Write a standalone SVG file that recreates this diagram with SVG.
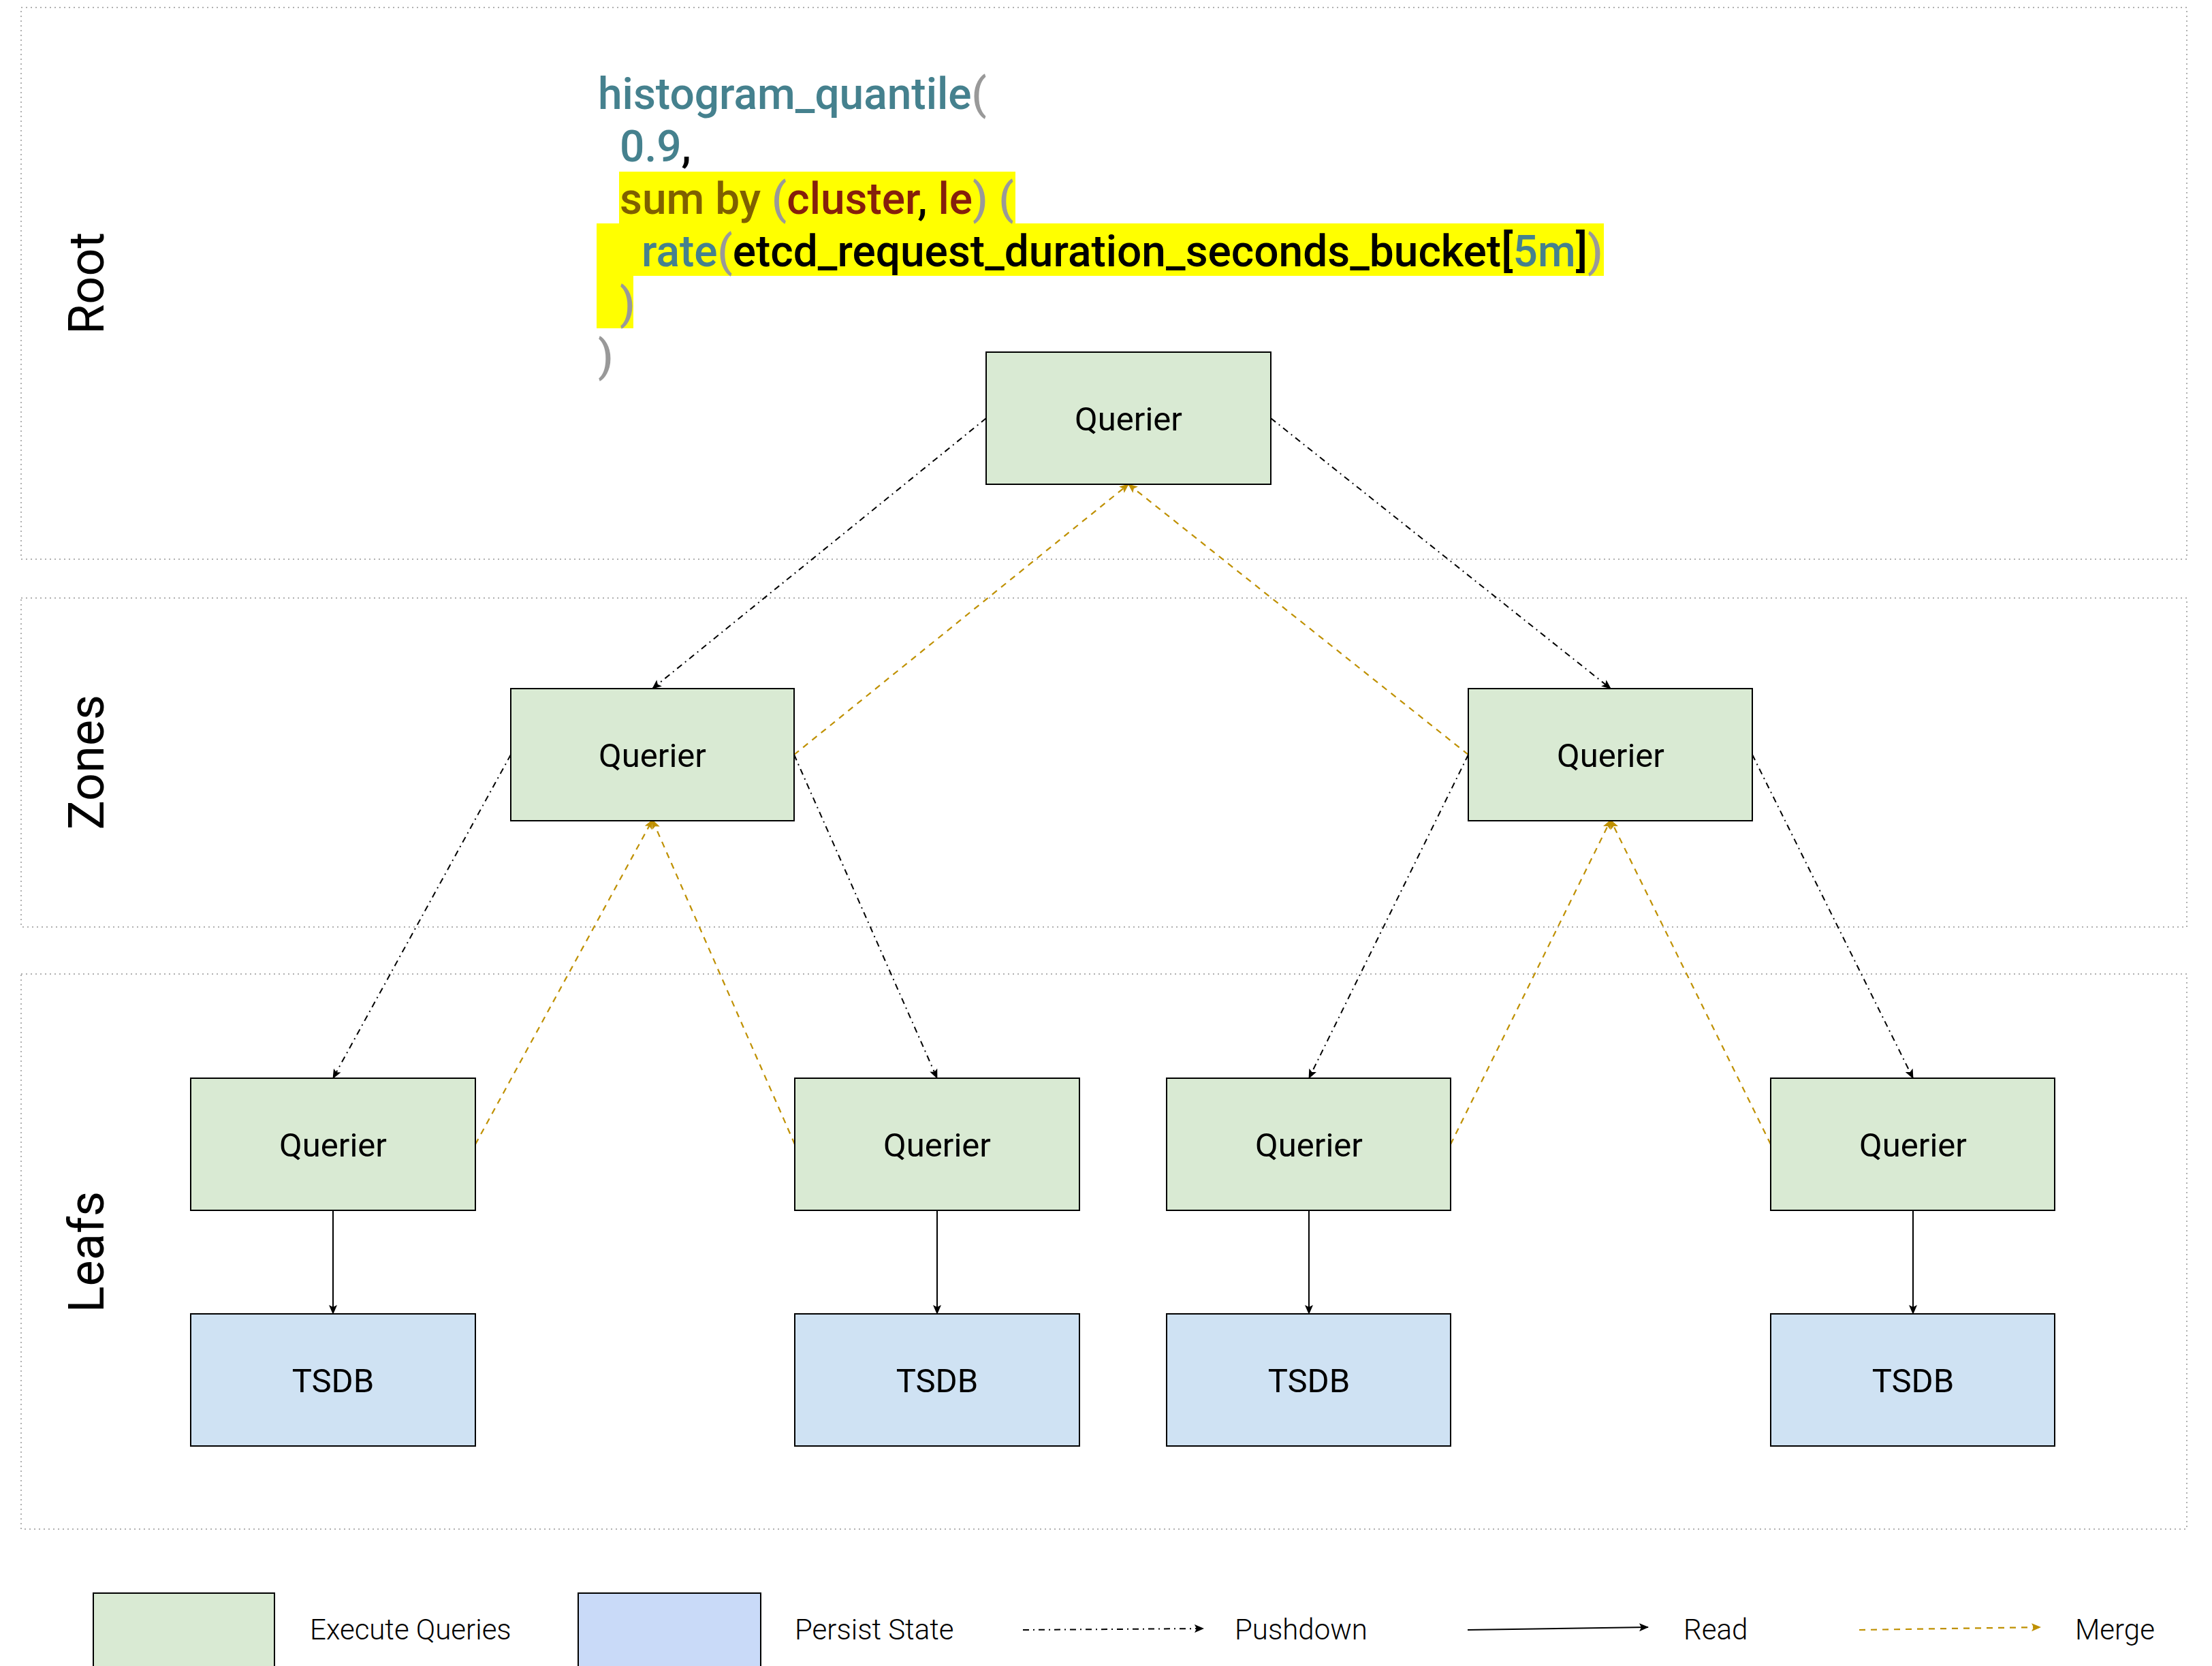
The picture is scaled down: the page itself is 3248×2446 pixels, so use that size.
<svg xmlns="http://www.w3.org/2000/svg" width="3248" height="2446" viewBox="0 0 3248 2446">
<style>
.grp{fill:none;stroke:#b0b0b0;stroke-width:2;stroke-dasharray:2 5}
.q{fill:#d9ead3;stroke:#000;stroke-width:2}
.t{fill:#cfe2f3;stroke:#000;stroke-width:2}
.lbl{font-family:Roboto,"Liberation Sans",sans-serif;font-size:49px;fill:#000;text-anchor:middle}
.side{font-family:Roboto,"Liberation Sans",sans-serif;font-size:72px;fill:#000;text-anchor:middle}
.code{font-family:Roboto,"Liberation Sans",sans-serif;font-size:64px;font-weight:500;fill:#000}
.leg{font-family:Roboto,"Liberation Sans",sans-serif;font-size:42px;font-weight:300;fill:#000}
.push{fill:none;stroke:#000;stroke-width:2;stroke-dasharray:9 6 2 6;marker-end:url(#ab)}
.merge{fill:none;stroke:#bf9000;stroke-width:2.2;stroke-dasharray:9 8;marker-end:url(#ao)}
.read{fill:none;stroke:#000;stroke-width:2;marker-end:url(#ab)}
.cy{fill:#45818e}.gy{fill:#999999}.ol{fill:#7f6000}.rd{fill:#85200c}
</style>
<defs>
<marker id="ab" markerUnits="userSpaceOnUse" markerWidth="14" markerHeight="12" refX="13" refY="6" orient="auto"><path d="M0,0 L14,6 L0,12 L3,6 Z" fill="#000"/></marker>
<marker id="ao" markerUnits="userSpaceOnUse" markerWidth="14" markerHeight="12" refX="13" refY="6" orient="auto"><path d="M0,0 L14,6 L0,12 L3,6 Z" fill="#bf9000"/></marker>
</defs>
<rect width="3248" height="2446" fill="#fff"/>
<g id="groups">
<rect class="grp" x="31" y="11" width="3180" height="810"/>
<rect class="grp" x="31" y="878" width="3180" height="483"/>
<rect class="grp" x="31" y="1430" width="3180" height="815"/>
<text class="side" x="152" y="416" transform="rotate(-90 152 416)">Root</text>
<text class="side" x="152" y="1119" transform="rotate(-90 152 1119)">Zones</text>
<text class="side" x="152" y="1838" transform="rotate(-90 152 1838)">Leafs</text>
</g>
<g id="query">
<rect x="909" y="252" width="582" height="77" fill="#ffff00"/>
<rect x="876" y="328" width="1479" height="77" fill="#ffff00"/>
<rect x="876" y="404" width="54" height="78" fill="#ffff00"/>
<text class="code" x="878" y="160"><tspan class="cy">histogram_quantile</tspan><tspan class="gy">(</tspan></text>
<text class="code" x="910" y="237"><tspan class="cy">0.9</tspan>,</text>
<text class="code" x="910" y="314"><tspan class="ol">sum by </tspan><tspan class="gy">(</tspan><tspan class="rd">cluster</tspan>, <tspan class="rd">le</tspan><tspan class="gy">) (</tspan></text>
<text class="code" x="942" y="391"><tspan class="cy">rate</tspan><tspan class="gy">(</tspan>etcd_request_duration_seconds_bucket[<tspan class="cy">5m</tspan>]<tspan class="gy">)</tspan></text>
<text class="code gy" x="910" y="468">)</text>
<text class="code gy" x="878" y="545">)</text>
</g>
<g id="connectors">
<path class="push" d="M1448,614 L958,1011"/>
<path class="push" d="M1866,614 L2365,1011"/>
<path class="push" d="M750,1108 L489,1583"/>
<path class="push" d="M1166,1108 L1376,1583"/>
<path class="push" d="M2156,1108 L1922,1583"/>
<path class="push" d="M2573,1108 L2809,1583"/>
<path class="merge" d="M1166,1108 L1657,711"/>
<path class="merge" d="M2156,1108 L1657,711"/>
<path class="merge" d="M698,1680 L958,1204"/>
<path class="merge" d="M1167,1680 L958,1204"/>
<path class="merge" d="M2130,1680 L2365,1204"/>
<path class="merge" d="M2600,1680 L2365,1204"/>
<path class="read" d="M489,1777 L489,1929"/>
<path class="read" d="M1376,1777 L1376,1929"/>
<path class="read" d="M1922,1777 L1922,1929"/>
<path class="read" d="M2809,1777 L2809,1929"/>
</g>
<g id="root-querier"><rect class="q" x="1448" y="517" width="418" height="194"/><text class="lbl" x="1657" y="632">Querier</text></g>
<g id="zone-left"><rect class="q" x="750" y="1011" width="416" height="194"/><text class="lbl" x="958" y="1126">Querier</text></g>
<g id="zone-right"><rect class="q" x="2156" y="1011" width="417" height="194"/><text class="lbl" x="2365" y="1126">Querier</text></g>
<g id="leaf-1"><rect class="q" x="280" y="1583" width="418" height="194"/><text class="lbl" x="489" y="1698">Querier</text></g>
<g id="leaf-2"><rect class="q" x="1167" y="1583" width="418" height="194"/><text class="lbl" x="1376" y="1698">Querier</text></g>
<g id="leaf-3"><rect class="q" x="1713" y="1583" width="417" height="194"/><text class="lbl" x="1922" y="1698">Querier</text></g>
<g id="leaf-4"><rect class="q" x="2600" y="1583" width="417" height="194"/><text class="lbl" x="2809" y="1698">Querier</text></g>
<g id="tsdb-1"><rect class="t" x="280" y="1929" width="418" height="194"/><text class="lbl" x="489" y="2044">TSDB</text></g>
<g id="tsdb-2"><rect class="t" x="1167" y="1929" width="418" height="194"/><text class="lbl" x="1376" y="2044">TSDB</text></g>
<g id="tsdb-3"><rect class="t" x="1713" y="1929" width="417" height="194"/><text class="lbl" x="1922" y="2044">TSDB</text></g>
<g id="tsdb-4"><rect class="t" x="2600" y="1929" width="417" height="194"/><text class="lbl" x="2809" y="2044">TSDB</text></g>
<g id="legend">
<rect x="137" y="2339" width="266" height="140" fill="#d9ead3" stroke="#000" stroke-width="2"/>
<text class="leg" x="455" y="2407">Execute Queries</text>
<rect x="849" y="2339" width="268" height="140" fill="#c9daf8" stroke="#000" stroke-width="2"/>
<text class="leg" x="1167" y="2407">Persist State</text>
<path class="push" d="M1502,2393 L1767,2391"/>
<text class="leg" x="1813" y="2407">Pushdown</text>
<path class="read" d="M2155,2393 L2420,2389"/>
<text class="leg" x="2472" y="2407">Read</text>
<path class="merge" d="M2730,2393 L2996,2389"/>
<text class="leg" x="3047" y="2407">Merge</text>
</g>
</svg>
